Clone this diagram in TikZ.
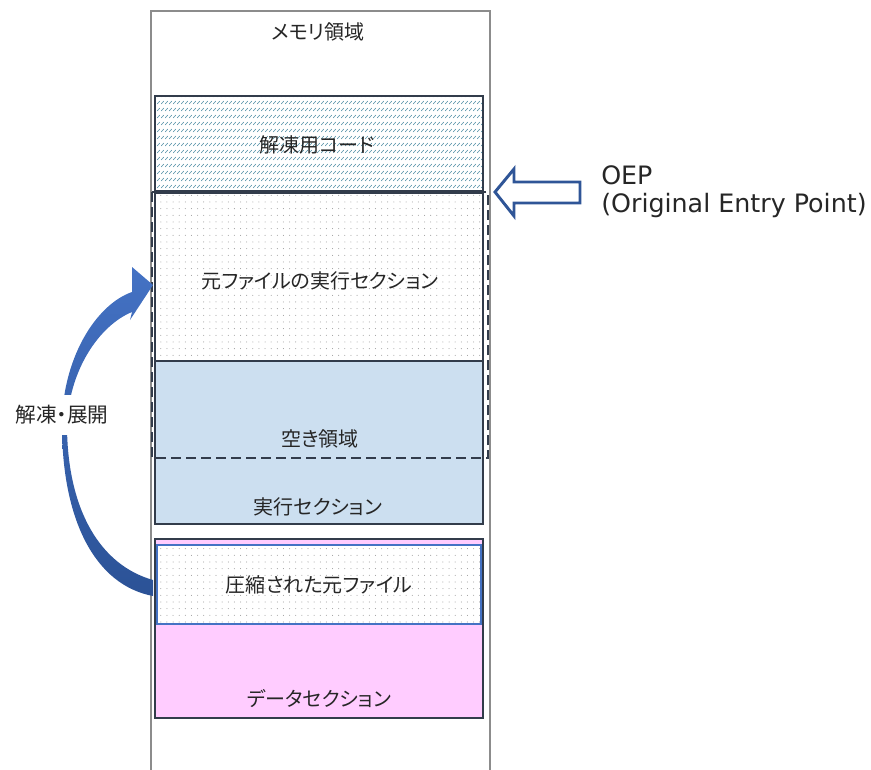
\documentclass[tikz,border=0pt]{standalone}
\usepackage{fontspec}
\setmainfont{Noto Sans CJK JP}[RawFeature=+palt]
\newfontfamily\latinfont{DejaVu Sans}
\usetikzlibrary{patterns}
\pgfdeclarepatternformonly{sdots}{\pgfqpoint{-0.5pt}{-0.5pt}}{\pgfqpoint{4.6pt}{5pt}}{\pgfqpoint{4.6pt}{5pt}}{\pgfpathcircle{\pgfqpoint{1pt}{1pt}}{0.38pt}\pgfusepath{fill}}
\pgfdeclarepatternformonly{shatch}{\pgfqpoint{0pt}{0pt}}{\pgfqpoint{2.8pt}{4.9pt}}{\pgfqpoint{2.8pt}{4.9pt}}{\pgfsetlinewidth{0.5pt}\pgfpathmoveto{\pgfqpoint{0.2pt}{0.9pt}}\pgfpathlineto{\pgfqpoint{2.2pt}{3.1pt}}\pgfusepath{stroke}}
\definecolor{boxline}{RGB}{50,60,75}
\definecolor{lblue}{RGB}{204,223,240}
\definecolor{lpink}{RGB}{255,204,255}
\definecolor{memgray}{RGB}{140,140,140}
\definecolor{hatchc}{RGB}{90,150,170}
\definecolor{dotc}{RGB}{150,150,150}
\definecolor{arrowdark}{RGB}{43,82,150}
\definecolor{arrowlight}{RGB}{68,114,196}
\definecolor{txt}{RGB}{38,38,38}
\definecolor{cblue}{RGB}{68,114,196}
\definecolor{oepblue}{RGB}{47,85,151}
\begin{document}
\begin{tikzpicture}[x=0.75pt,y=-0.75pt,
  lbl/.style={text=txt,font=\fontsize{15pt}{18pt}\selectfont,inner sep=0pt},
  sect/.style={draw=boxline,line width=1.5pt},
  latin/.style={anchor=base west,inner sep=0pt,text=txt,font=\latinfont\fontsize{19pt}{22pt}\selectfont}]
\useasboundingbox (0,0) rectangle (871,770);
% memory region outline
\draw[memgray,line width=1.5pt] (151,770) -- (151,11) -- (490,11) -- (490,770);
\node[lbl] (mem) at (318,32) {メモリ領域};
% unpack code block
\fill[white] (155,96) rectangle (483,191);
\fill[pattern=shatch,pattern color=hatchc] (155,96) rectangle (483,191);
\draw[sect] (155,96) rectangle (483,191);
% original executable section
\fill[white] (155,193) rectangle (483,361);
\fill[pattern=sdots,pattern color=dotc] (155,193) rectangle (483,361);
\draw[sect] (155,193) rectangle (483,361);
% free area / exec section
\filldraw[sect,fill=lblue] (155,361) rectangle (483,524);
% dashed outline
\draw[boxline,line width=1.5pt,dash pattern=on 7.5pt off 3.75pt] (152,192) rectangle (488,458);
% data block
\filldraw[sect,fill=lpink] (155,539) rectangle (483,718);
\fill[white] (157,545) rectangle (481,624);
\fill[pattern=sdots,pattern color=dotc] (157,545) rectangle (481,624);
\draw[cblue,line width=1.2pt] (157,545) rectangle (481,624);
% curved arrow
\shade[top color=arrowlight,bottom color=arrowdark]
  (153,596) .. controls (95,585) and (62,520) .. (62,425)
  .. controls (62,360) and (95,305) .. (132,292)
  -- (132,267) -- (153,285) -- (130,320) -- (132,312)
  .. controls (100,325) and (68,370) .. (67,428)
  .. controls (68,510) and (100,565) .. (153,580) -- cycle;
\node[lbl,fill=white,inner xsep=1pt,inner ysep=8pt,font=\fontsize{15.5pt}{18pt}\selectfont] (unpack) at (62,415) {解凍・展開};
% OEP arrow
\draw[oepblue,line width=2.2pt,fill=white,line join=miter] (495,192) -- (514,169) -- (514,182) -- (580,182) -- (580,203) -- (514,203) -- (514,216) -- cycle;
\node[latin] (oep) at (601,185) {OEP};
\node[latin] (oepfull) at (601,213) {(Original Entry Point)};
% labels
\node[lbl] (unpackcode) at (317,145) {解凍用コード};
\node[lbl] (origexec) at (320,281) {元ファイルの実行セクション};
\node[lbl] (free) at (320,439) {空き領域};
\node[lbl] (exec) at (318,507) {実行セクション};
\node[lbl] (comp) at (319,585) {圧縮された元ファイル};
\node[lbl] (data) at (319,699) {データセクション};
\end{tikzpicture}
\end{document}
